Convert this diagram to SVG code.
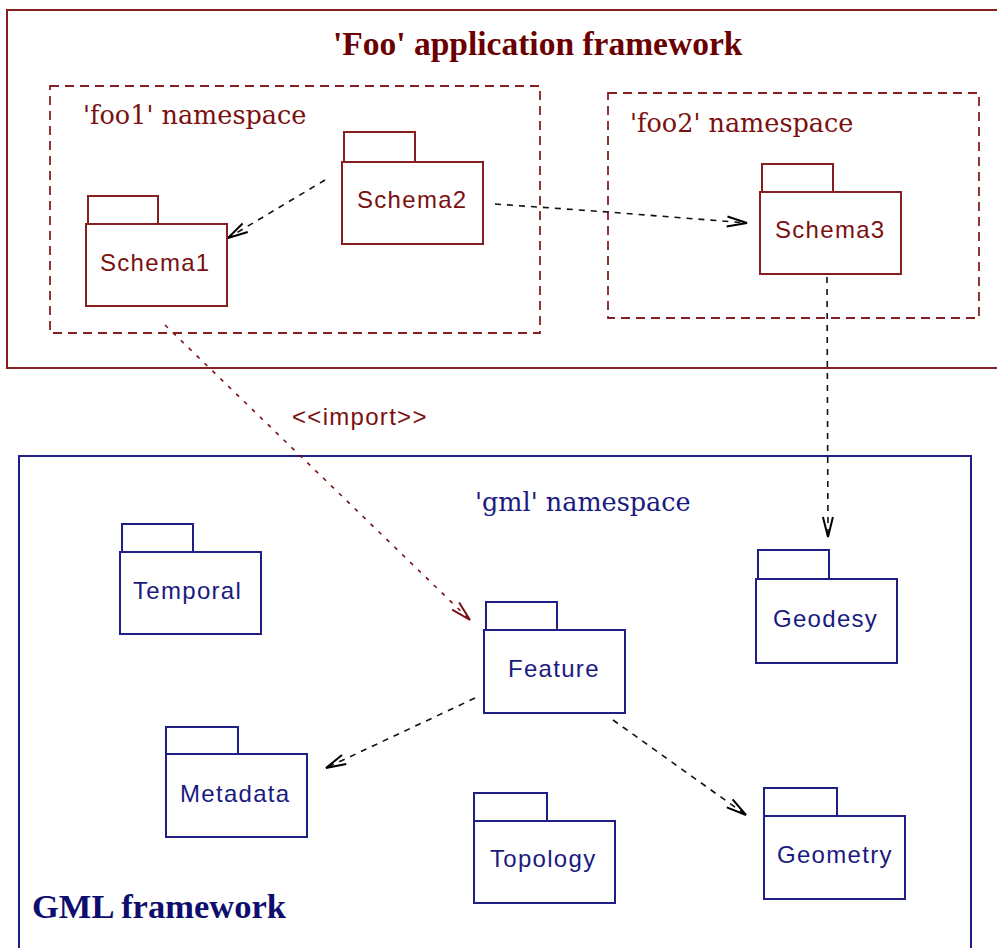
<svg xmlns="http://www.w3.org/2000/svg" width="997" height="948" viewBox="0 0 997 948">
<style>
  .frameR { fill: none; stroke: #862020; stroke-width: 2; }
  .frameB { fill: none; stroke: #1f1f86; stroke-width: 2; }
  .nsR { fill: none; stroke: #862020; stroke-width: 1.8; stroke-dasharray: 9 6; }
  .pkgR { fill: #ffffff; stroke: #862020; stroke-width: 2; }
  .pkgB { fill: #ffffff; stroke: #1f1f86; stroke-width: 2; }
  .title { font-family: "Liberation Serif", serif; font-weight: bold; font-size: 33.5px; }
  .ns { font-family: "DejaVu Serif", serif; font-size: 25.5px; }
  .lbl { font-family: "Liberation Sans", Arial, sans-serif; font-size: 24px; letter-spacing: 1.3px; }
  .red { fill: #7a1010; }
  .darkred { fill: #6a0000; }
  .blue { fill: #1a1a80; }
  .navy { fill: #0e0e6e; }
  .dep { fill: none; stroke: #111111; stroke-width: 1.6; stroke-dasharray: 6 6; }
  .imp { fill: none; stroke: #7a1010; stroke-width: 1.6; stroke-dasharray: 4 7; }
</style>
<defs>
  <marker id="openBlack" markerUnits="userSpaceOnUse" markerWidth="26" markerHeight="18" refX="21" refY="8" orient="auto">
    <path d="M1,3 L21,8 L1,13" fill="none" stroke="#000000" stroke-width="2" stroke-dasharray="none"/>
  </marker>
  <marker id="openRed" markerUnits="userSpaceOnUse" markerWidth="26" markerHeight="18" refX="21" refY="8" orient="auto">
    <path d="M1,3 L21,8 L1,13" fill="none" stroke="#7a1010" stroke-width="2" stroke-dasharray="none"/>
  </marker>
</defs>
<rect width="997" height="948" fill="#ffffff"/>

<g id="foo-framework">
  <rect class="frameR" x="7" y="10" width="1000" height="358"/>
  <text class="title darkred" x="333" y="55">'Foo' application framework</text>
</g>

<g id="foo1-namespace">
  <rect class="nsR" x="50" y="86" width="490" height="247"/>
  <text class="ns red" x="83" y="124">'foo1' namespace</text>
</g>

<g id="foo2-namespace">
  <rect class="nsR" x="608" y="93" width="371" height="225"/>
  <text class="ns red" x="630" y="132">'foo2' namespace</text>
</g>

<g id="gml-framework">
  <rect class="frameB" x="19" y="456" width="952" height="520"/>
  <text class="ns blue" x="475" y="511">'gml' namespace</text>
  <text class="title navy" x="32" y="918" style="font-size:34.5px">GML framework</text>
</g>

<g id="connectors">
  <line class="dep" x1="325" y1="180" x2="228" y2="238" marker-end="url(#openBlack)"/>
  <polyline class="dep" points="495,204 608,212 747,223" marker-end="url(#openBlack)"/>
  <line class="dep" x1="827" y1="277" x2="828" y2="537" marker-end="url(#openBlack)"/>
  <line class="imp" x1="165" y1="325" x2="470" y2="620" marker-end="url(#openRed)"/>
  <text class="lbl red" x="292" y="425">&lt;&lt;import&gt;&gt;</text>
  <line class="dep" x1="475" y1="698" x2="326" y2="768" marker-end="url(#openBlack)"/>
  <line class="dep" x1="613" y1="720" x2="746" y2="815" marker-end="url(#openBlack)"/>
</g>

<g id="schema1">
  <rect class="pkgR" x="88" y="196" width="70" height="28"/>
  <rect class="pkgR" x="86" y="224" width="141" height="82"/>
  <text class="lbl red" x="100" y="271">Schema1</text>
</g>

<g id="schema2">
  <rect class="pkgR" x="344" y="132" width="71" height="30"/>
  <rect class="pkgR" x="342" y="162" width="141" height="82"/>
  <text class="lbl red" x="357" y="208">Schema2</text>
</g>

<g id="schema3">
  <rect class="pkgR" x="762" y="164" width="71" height="28"/>
  <rect class="pkgR" x="760" y="192" width="141" height="82"/>
  <text class="lbl red" x="775" y="238">Schema3</text>
</g>

<g id="temporal">
  <rect class="pkgB" x="122" y="524" width="71" height="28"/>
  <rect class="pkgB" x="120" y="552" width="141" height="82"/>
  <text class="lbl blue" x="133" y="599">Temporal</text>
</g>

<g id="feature">
  <rect class="pkgB" x="486" y="602" width="71" height="28"/>
  <rect class="pkgB" x="484" y="630" width="141" height="83"/>
  <text class="lbl blue" x="508" y="677">Feature</text>
</g>

<g id="geodesy">
  <rect class="pkgB" x="758" y="550" width="71" height="29"/>
  <rect class="pkgB" x="756" y="579" width="141" height="84"/>
  <text class="lbl blue" x="773" y="627">Geodesy</text>
</g>

<g id="metadata">
  <rect class="pkgB" x="166" y="727" width="72" height="27"/>
  <rect class="pkgB" x="166" y="754" width="141" height="83"/>
  <text class="lbl blue" x="180" y="802">Metadata</text>
</g>

<g id="topology">
  <rect class="pkgB" x="474" y="793" width="73" height="28"/>
  <rect class="pkgB" x="474" y="821" width="141" height="82"/>
  <text class="lbl blue" x="490" y="867">Topology</text>
</g>

<g id="geometry">
  <rect class="pkgB" x="764" y="788" width="73" height="28"/>
  <rect class="pkgB" x="764" y="816" width="141" height="83"/>
  <text class="lbl blue" x="777" y="863">Geometry</text>
</g>
</svg>
